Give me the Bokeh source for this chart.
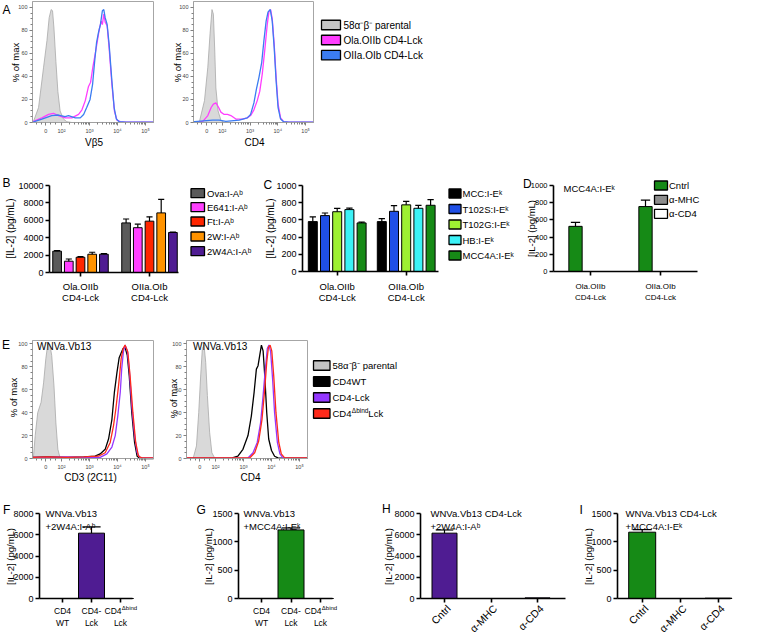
import math
from bokeh.plotting import figure
from bokeh.models import Range1d, FixedTicker, Label, LinearAxis
from bokeh.embed import file_html
from bokeh.resources import INLINE

FONT = "Liberation Sans"

# ====================== DATA ======================
# Flow cytometry: x in display units of the biexponential axis (2 = 10^2, 3 = 10^3, ...), y = % of max
FLOW_TICKS = [1.44, 2.0, 3.0, 4.0, 5.0]
FLOW_TICK_LABELS = ["0", "10²", "10³", "10⁴", "10⁵"]
PCT_TICKS = [0, 20, 40, 60, 80, 100]

# Panel A, left (Vβ5)
A_vb5_par_x = [0.96, 1.0, 1.18, 1.36, 1.48, 1.56, 1.63, 1.68, 1.73, 1.80, 1.87, 1.95, 2.07, 2.19, 2.37]
A_vb5_par_y = [0, 1, 13, 48, 71, 91, 98, 97, 82, 53, 27, 10, 3, 0.7, 0]
A_vb5_olaoiib_x = [0.96, 1.0, 1.30, 1.54, 1.71, 1.89, 2.13, 2.37, 2.61, 2.73, 2.85, 2.96, 3.04, 3.12, 3.20,
                   3.27, 3.35, 3.42, 3.46, 3.51, 3.56, 3.63, 3.70, 3.80, 3.89, 3.98, 4.10, 4.30, 5.29]
A_vb5_olaoiib_y = [0.5, 1, 4, 7, 8, 6, 4, 4, 7, 11, 19, 31, 35, 48, 59,
                   69, 81, 88, 85, 94, 87, 84, 65, 33, 10, 2, 0.7, 0.3, 0.3]
A_vb5_oiiaoib_x = [0.96, 1.0, 1.30, 1.65, 1.89, 2.13, 2.25, 2.49, 2.67, 2.79, 2.90, 3.02, 3.11, 3.18,
                   3.25, 3.32, 3.39, 3.46, 3.51, 3.56, 3.63, 3.70, 3.80, 3.88, 3.96, 4.06, 4.30, 5.29]
A_vb5_oiiaoib_y = [0.3, 0.5, 3, 6, 6.5, 5, 6, 4, 4, 7, 13, 20, 33, 52,
                   69, 78, 85, 97, 98, 91, 85, 68, 36, 13, 3, 0.7, 0.3, 0.3]

# Panel A, right (CD4)
A_cd4_par_x = [1.10, 1.18, 1.36, 1.48, 1.56, 1.63, 1.68, 1.73, 1.77, 1.85, 1.95, 2.07]
A_cd4_par_y = [0, 1, 19, 48, 77, 98, 94, 62, 30, 10, 2, 0]
A_cd4_olaoiib_x = [0.96, 1.0, 1.30, 1.48, 1.60, 1.68, 1.77, 1.87, 1.95, 2.07, 2.19, 2.31, 2.49, 2.73, 2.90,
                   3.02, 3.14, 3.26, 3.35, 3.44, 3.54, 3.62, 3.68, 3.74, 3.80, 3.87, 3.94, 4.01, 4.10,
                   4.21, 4.40, 5.29]
A_cd4_olaoiib_y = [0.5, 0.7, 1, 6, 13, 16, 17, 13, 9, 7, 7, 6, 3, 3, 4,
                   6, 11, 19, 27, 42, 65, 85, 96, 98, 90, 68, 39, 16, 4,
                   0.7, 0.3, 0.3]
A_cd4_oiiaoib_x = [0.96, 1.0, 1.65, 1.89, 2.13, 2.61, 2.90, 3.02, 3.14, 3.23, 3.32, 3.42, 3.50, 3.58,
                   3.65, 3.73, 3.80, 3.87, 3.94, 4.01, 4.10, 4.21, 4.40, 5.29]
A_cd4_oiiaoib_y = [0.5, 0.7, 2, 2, 1, 2, 4, 7, 17, 29, 39, 52, 71, 88,
                   96, 98, 88, 65, 36, 13, 3, 0.7, 0.3, 0.3]
A_legend = ["58α⁻β⁻ parental", "Ola.OIIb CD4-Lck", "OIIa.OIb CD4-Lck"]

# Panel E, left (CD3 2C11)
E_cd3_par_x = [0.96, 1.0, 1.06, 1.15, 1.27, 1.36, 1.44, 1.51, 1.58, 1.65, 1.73, 1.80, 1.87, 1.95, 2.0]
E_cd3_par_y = [0, 2, 20, 40, 49, 66, 87, 100, 100, 90, 64, 31, 8, 0.5, 0]
E_cd3_wt_x = [0.96, 1.5, 2.2, 2.8, 3.20, 3.38, 3.56, 3.68, 3.80, 3.89, 3.98, 4.06, 4.13, 4.20, 4.27,
              4.35, 4.42, 4.51, 4.61, 4.70, 4.81, 5.29]
E_cd3_wt_y = [1, 1.5, 1, 1.5, 2, 4, 8, 17, 34, 58, 75, 88, 92, 96, 97,
              90, 72, 40, 14, 2, 0, 0]
E_cd3_lck_x = [0.96, 1.5, 2.2, 2.8, 3.38, 3.62, 3.80, 3.92, 4.01, 4.10, 4.15, 4.21, 4.27, 4.35, 4.42,
               4.51, 4.61, 4.70, 4.81, 5.29]
E_cd3_lck_y = [1, 1, 1.5, 1, 1, 4, 10, 20, 37, 58, 78, 93, 99, 94, 78,
               46, 20, 5, 0.5, 0.5]
E_cd3_dbind_x = [0.96, 1.5, 2.2, 2.8, 3.32, 3.56, 3.74, 3.86, 3.94, 4.04, 4.13, 4.20, 4.27, 4.37, 4.45,
                 4.55, 4.65, 4.75, 4.87, 5.29]
E_cd3_dbind_y = [1, 1.5, 1, 1.5, 2, 5, 14, 29, 43, 64, 87, 96, 99, 93, 72,
                 40, 14, 2, 0.5, 0.5]

# Panel E, right (CD4)
E_cd4_par_x = [1.20, 1.32, 1.40, 1.47, 1.53, 1.59, 1.65, 1.71, 1.79, 1.87, 1.97]
E_cd4_par_y = [0, 11, 40, 72, 96, 99, 84, 55, 23, 5, 0.5]
E_cd4_wt_x = [0.96, 2.0, 2.6, 2.80, 2.98, 3.16, 3.28, 3.38, 3.46, 3.52, 3.58, 3.64, 3.70, 3.76, 3.83,
              3.90, 4.0, 4.11, 4.23, 5.29]
E_cd4_wt_y = [0.3, 0.3, 0.5, 2, 8, 20, 37, 58, 78, 81, 90, 99, 94, 72, 40,
              17, 7, 2, 0.5, 0.3]
E_cd4_lck_x = [0.96, 3.16, 3.34, 3.49, 3.61, 3.70, 3.78, 3.85, 3.91, 3.97, 4.04, 4.11, 4.21, 4.30, 4.41, 5.29]
E_cd4_lck_y = [0.3, 0.5, 5, 14, 31, 55, 78, 96, 99, 93, 69, 40, 14, 4, 0.5, 0.3]
E_cd4_dbind_x = [0.96, 3.22, 3.40, 3.54, 3.66, 3.76, 3.83, 3.89, 3.95, 4.01, 4.08, 4.16, 4.26, 4.35, 4.47, 5.29]
E_cd4_dbind_y = [0.5, 0.5, 5, 15, 34, 61, 84, 97, 99, 94, 72, 40, 14, 4, 0.5, 0.5]
E_legend = ["58α⁻β⁻ parental", "CD4WT", "CD4-Lck"]

# Panel B  ([IL-2] pg/mL)
BC_groups = ["Ola.OIIb", "OIIa.OIb"]
BC_group_sub = "CD4-Lck"
B_series = ["Ova:I-Aᵇ", "E641:I-Aᵇ", "Ft:I-Aᵇ", "2W:I-Aᵇ", "2W4A:I-Aᵇ"]
B_mean_OlaOIIb = [2450, 1300, 1750, 2100, 2100]
B_upper_OlaOIIb = [2520, 1550, 1820, 2330, 2160]
B_mean_OIIaOIb = [5700, 5150, 5900, 6850, 4600]
B_upper_OIIaOIb = [6150, 5550, 6400, 8400, 4650]
B_yticks = [0, 2000, 4000, 6000, 8000, 10000]

# Panel C
C_series = ["MCC:I-Eᵏ", "T102S:I-Eᵏ", "T102G:I-Eᵏ", "HB:I-Eᵏ", "MCC4A:I-Eᵏ"]
C_mean_OlaOIIb = [580, 650, 695, 720, 565]
C_upper_OlaOIIb = [635, 680, 735, 738, 575]
C_mean_OIIaOIb = [580, 700, 775, 735, 770]
C_upper_OIIaOIb = [615, 765, 815, 770, 835]
CD_yticks = [0, 200, 400, 600, 800, 1000]

# Panel D
D_series = ["Cntrl", "α-MHC", "α-CD4"]
D_mean_OlaOIIb = [525, 0, 0]
D_upper_OlaOIIb = [572, 0, 0]
D_mean_OIIaOIb = [755, 0, 0]
D_upper_OIIaOIb = [830, 0, 0]

# Panels F, G (WNVa.Vb13 cells)
FG_cats_line1 = ["CD4", "CD4-", "CD4"]
FG_cats_line2 = ["WT", "Lck", "Lck"]
F_mean = [0, 6150, 0]
F_upper = [0, 6750, 0]
G_mean = [0, 1210, 0]
G_upper = [0, 1245, 0]
# Panels H, I (blocking)
HI_cats = ["Cntrl", "α-MHC", "α-CD4"]
H_mean = [6150, 0, 60]
H_upper = [6450, 0, 60]
I_mean = [1170, 0, 5]
I_upper = [1215, 0, 5]
FH_yticks = [0, 2000, 4000, 6000, 8000]
GI_yticks = [0, 500, 1000, 1500]

# colours
GREY_FILL, GREY_LINE = "#d9d9d9", "#a8a8a8"
MAGENTA, BLUE = "#ff3dff", "#3b7cf2"
PURPLE_E, RED_E = "#9437ff", "#ff2a1a"
B_colors = ["#5a5a5a", "#ff40ff", "#ff2600", "#ff9300", "#4f1c92"]
C_colors = ["#000000", "#1f4fe6", "#9ef032", "#3cf2f7", "#168a16"]
D_colors = ["#168a16", "#8c8c8c", "#ffffff"]
PURPLE_BAR, GREEN_BAR = "#4f1c92", "#168a16"

# ====================== CANVAS ======================
# one SVG canvas; default ranges are page pixel positions (x right, y down)
CAN = (0, 0, 760, 633)
p = figure(width=CAN[2] - CAN[0], height=CAN[3] - CAN[1],
           x_range=Range1d(CAN[0], CAN[2]), y_range=Range1d(CAN[3], CAN[1]),
           output_backend="svg", toolbar_location=None, title=None,
           x_axis_location=None, y_axis_location=None, min_border=0)
p.min_border_left = p.min_border_right = p.min_border_top = p.min_border_bottom = 0
p.outline_line_color = None
p.grid.visible = False
p.background_fill_color = "white"
p.border_fill_color = "white"

XR, YR = {}, {}

AW = {'C': .722, 'D': .722, '4': .556, 'L': .556, 'c': .5, 'k': .5, 'Δ': .612, 'b': .556,
      'i': .222, 'n': .556, 'd': .556, '-': .333, 'W': .944, 'T': .611}


def tw(s, size):
    return sum(AW.get(ch, .556) for ch in s) * size


def label(X, Y, text, size, align="left", baseline="middle", angle=0.0, color="black"):
    p.add_layout(Label(x=X, y=Y, text=text, text_font=FONT, text_font_size=f"{size}px",
                       text_align=align, text_baseline=baseline, angle=angle, text_color=color))


def rich(X, Y, parts, align="left"):
    total = sum(tw(t, s) for t, s, dy in parts)
    x = X - total / 2 if align == "center" else X
    for t, s, dy in parts:
        label(x, Y + dy, t, s)
        x += tw(t, s) + 0.3


def swatches(x0, x1, ycs, h, colors, texts, tx, size, lw=1.3):
    for yc, c in zip(ycs, colors):
        p.quad(left=x0, right=x1, top=yc - h / 2, bottom=yc + h / 2,
               fill_color=c, line_color="black", line_width=lw)
    for yc, t in zip(ycs, texts):
        label(tx, yc, t, size)


class Panel:
    """A sub-plot: its own data ranges mapped onto a pixel box of the single canvas."""
    def __init__(self, name, frame, xr, yr):
        fx0, fy0, fx1, fy1 = frame
        sx = (xr[1] - xr[0]) / (fx1 - fx0)
        sy = (yr[1] - yr[0]) / (fy1 - fy0)
        XR[name] = Range1d(xr[0] + (CAN[0] - fx0) * sx, xr[0] + (CAN[2] - fx0) * sx)
        YR[name] = Range1d(yr[0] + (fy1 - CAN[3]) * sy, yr[0] + (fy1 - CAN[1]) * sy)
        self.name, self.frame = name, frame
        self.kw = dict(x_range_name=name, y_range_name=name)


def style_axis(ax, color, tick_color, lw, tick_out, size, label_color, standoff=2):
    ax.axis_line_color = color
    ax.axis_line_width = lw
    ax.major_tick_line_color = tick_color
    ax.major_tick_line_width = lw
    ax.minor_tick_line_color = tick_color
    ax.minor_tick_line_width = lw
    ax.major_tick_out, ax.major_tick_in = tick_out, 0
    ax.minor_tick_out, ax.minor_tick_in = max(2, tick_out - 1), 0
    ax.major_label_text_font = FONT
    ax.major_label_text_font_size = f"{size}px"
    ax.major_label_text_color = label_color
    ax.major_label_standoff = standoff


D_RANGE = (0.964, 5.286)
FLOW_MINOR = [1.1, 1.27, 1.62, 1.78] + [d + math.log10(k) for d in (2, 3, 4) for k in range(2, 10)]
PCT_MINOR = [v for v in range(0, 101, 5) if v % 20]


def hist_panel(name, frame, ytop, par_x, par_y, lines):
    P = Panel(name, frame, D_RANGE, (0, ytop))
    fx0, fy0, fx1, fy1 = frame
    p.varea(x=par_x, y1=0, y2=par_y, fill_color=GREY_FILL, **P.kw)
    p.line(par_x, par_y, line_color=GREY_LINE, line_width=0.8, **P.kw)
    for xs, ys, c in lines:
        p.line(xs, ys, line_color=c, line_width=1.3, **P.kw)
    p.quad(left=fx0, right=fx1, top=fy0, bottom=fy1, fill_color=None, line_color="#a6a6a6", line_width=1)
    yax = LinearAxis(y_range_name=name, fixed_location=fx0, bounds=(0, ytop),
                     ticker=FixedTicker(ticks=PCT_TICKS, minor_ticks=PCT_MINOR))
    xax = LinearAxis(x_range_name=name, fixed_location=fy1, bounds=D_RANGE,
                     ticker=FixedTicker(ticks=FLOW_TICKS, minor_ticks=FLOW_MINOR),
                     major_label_overrides=dict(zip(FLOW_TICKS, FLOW_TICK_LABELS)))
    for ax in (xax, yax):
        style_axis(ax, "#a0a0a0", "#808080", 1, 3, 5.5, "#444444")
    p.add_layout(yax, "left")
    p.add_layout(xax, "below")
    return P


def bar_panel(name, frame, top_tick, yticks, cats_px, tick_size=9):
    fx0, fy0, fx1, fy1 = frame
    P = Panel(name, frame, (fx0, fx1), (0, top_tick))
    yax = LinearAxis(y_range_name=name, fixed_location=fx0, bounds=(0, top_tick),
                     ticker=FixedTicker(ticks=yticks))
    xax = LinearAxis(x_range_name=name, fixed_location=fy1, bounds=(fx0, fx1),
                     ticker=FixedTicker(ticks=[], minor_ticks=list(cats_px)))
    for ax in (xax, yax):
        style_axis(ax, "black", "black", 1.6, 4, tick_size, "black")
    xax.minor_tick_out = 4
    p.add_layout(yax, "left")
    p.add_layout(xax, "below")
    return P


def draw_bars(P, xs, width_px, means, uppers, colors):
    p.vbar(x=xs, width=width_px, top=means, bottom=0, fill_color=colors, line_color="black",
           line_width=1, **P.kw)
    cw = width_px * 0.35
    for x, m, u in zip(xs, means, uppers):
        if u > m:
            p.segment(x0=[x], y0=[m], x1=[x], y1=[u], line_color="black", line_width=1.2, **P.kw)
            p.segment(x0=[x - cw], y0=[u], x1=[x + cw], y1=[u], line_color="black", line_width=1.2, **P.kw)


LETTER = 12

# ====================== A ======================
hist_panel("A1", (32, 1, 153, 122), 105, A_vb5_par_x, A_vb5_par_y,
           [(A_vb5_olaoiib_x, A_vb5_olaoiib_y, MAGENTA), (A_vb5_oiiaoib_x, A_vb5_oiiaoib_y, BLUE)])
hist_panel("A2", (193, 1, 313, 122), 105, A_cd4_par_x, A_cd4_par_y,
           [(A_cd4_olaoiib_x, A_cd4_olaoiib_y, MAGENTA), (A_cd4_oiiaoib_x, A_cd4_oiiaoib_y, BLUE)])
label(2, 9, "A", LETTER)
label(15, 62, "% of max", 9.5, align="center", angle=math.pi / 2)
label(93.5, 142, "Vβ5", 10, align="center")
label(177, 62, "% of max", 9.5, align="center", angle=math.pi / 2)
label(254, 142, "CD4", 10, align="center")
swatches(321, 340, [24.5, 39.5, 54.7], 9.5, ["#c4c4c4", MAGENTA, BLUE], A_legend, 343, 10)

# ====================== B ======================
B_groups_px = [80, 149]
B = bar_panel("B", (49, 185, 178, 272), 10000, B_yticks, B_groups_px)
for g, (m, u) in enumerate([(B_mean_OlaOIIb, B_upper_OlaOIIb), (B_mean_OIIaOIb, B_upper_OIIaOIb)]):
    draw_bars(B, [B_groups_px[g] + (j - 2) * 11.7 for j in range(5)], 8.7, m, u, B_colors)
for g, name in enumerate(BC_groups):
    label(B_groups_px[g], 286, name, 9.5, align="center")
    label(B_groups_px[g], 297, BC_group_sub, 9.5, align="center")
label(2, 182.5, "B", LETTER)
label(10, 228, "[IL-2] (pg/mL)", 10, align="center", angle=math.pi / 2)
swatches(190.5, 204, [192.7, 206.7, 221, 236, 250.7], 9, B_colors, B_series, 206.5, 9.5)

# ====================== C ======================
C_groups_px = [336.7, 405.7]
C = bar_panel("C", (302, 185, 438, 271), 1000, CD_yticks, C_groups_px)
for g, (m, u) in enumerate([(C_mean_OlaOIIb, C_upper_OlaOIIb), (C_mean_OIIaOIb, C_upper_OIIaOIb)]):
    draw_bars(C, [C_groups_px[g] + (j - 2) * 12.2 for j in range(5)], 9, m, u, C_colors)
for g, name in enumerate(BC_groups):
    label(C_groups_px[g], 286, name, 9.5, align="center")
    label(C_groups_px[g], 297, BC_group_sub, 9.5, align="center")
label(263, 184, "C", LETTER)
label(270, 228, "[IL-2] (pg/mL)", 10, align="center", angle=math.pi / 2)
swatches(448.5, 460.5, [193, 208.5, 224, 239.5, 255], 9, C_colors, C_series, 462, 9.5)

# ====================== D ======================
D_groups_px = [590, 660]
D = bar_panel("D", (553, 185, 697, 271), 1000, CD_yticks, D_groups_px, tick_size=7.5)
for g, (m, u) in enumerate([(D_mean_OlaOIIb, D_upper_OlaOIIb), (D_mean_OIIaOIb, D_upper_OIIaOIb)]):
    draw_bars(D, [D_groups_px[g] + (j - 1) * 15 for j in range(3)], 13.3, m, u, D_colors)
for g, name in enumerate(BC_groups):
    label(D_groups_px[g], 286, name, 8, align="center")
    label(D_groups_px[g], 297, BC_group_sub, 8, align="center")
label(522.5, 183.5, "D", LETTER)
label(531, 228, "[IL-2] (pg/mL)", 9.5, align="center", angle=math.pi / 2)
label(563, 188, "MCC4A:I-Eᵏ", 9.5)
swatches(654, 667, [185, 199.3, 213.3], 9, D_colors, D_series, 668.5, 9.5)

# ====================== E ======================
hist_panel("E1", (32, 340, 153, 458), 103, E_cd3_par_x, E_cd3_par_y,
           [(E_cd3_wt_x, E_cd3_wt_y, "black"), (E_cd3_lck_x, E_cd3_lck_y, PURPLE_E),
            (E_cd3_dbind_x, E_cd3_dbind_y, RED_E)])
hist_panel("E2", (186, 340, 307, 458), 103, E_cd4_par_x, E_cd4_par_y,
           [(E_cd4_wt_x, E_cd4_wt_y, "black"), (E_cd4_lck_x, E_cd4_lck_y, PURPLE_E),
            (E_cd4_dbind_x, E_cd4_dbind_y, RED_E)])
label(1.5, 344, "E", LETTER)
label(13, 397, "% of max", 9.5, align="center", angle=math.pi / 2)
label(90, 477, "CD3 (2C11)", 10, align="center")
label(36.5, 346, "WNVa.Vb13", 10)
label(173, 398, "% of max", 9.5, align="center", angle=math.pi / 2)
label(250, 477, "CD4", 10, align="center")
label(192.5, 346, "WNVa.Vb13", 10)
swatches(313, 329.5, [365, 381, 397, 413], 9.5, ["#c4c4c4", "black", PURPLE_E, RED_E], E_legend, 332, 9.5)
rich(332, 413, [("CD4", 9.5, 0), ("Δbind", 6.5, -3.5), ("Lck", 9.5, 0)])

# ====================== F / G ======================
F_cats_px = [62, 91, 120]
F = bar_panel("F", (39, 513, 132, 598), 8000, FH_yticks, F_cats_px)
draw_bars(F, F_cats_px, 26, F_mean, F_upper, [PURPLE_BAR] * 3)
label(2.5, 509, "F", LETTER)
label(10, 556, "[IL-2] (pg/mL)", 9.5, align="center", angle=math.pi / 2)
label(45, 513, "WNVa.Vb13", 9.5)
label(45, 526, "+2W4A:I-Aᵇ", 9.5)

G_cats_px = [261, 290.5, 320]
G = bar_panel("G", (238, 513, 332, 598), 1500, GI_yticks, G_cats_px)
draw_bars(G, G_cats_px, 26, G_mean, G_upper, [GREEN_BAR] * 3)
label(196, 509, "G", LETTER)
label(208, 556, "[IL-2] (pg/mL)", 9.5, align="center", angle=math.pi / 2)
label(243, 513, "WNVa.Vb13", 9.5)
label(243, 526, "+MCC4A:I-Eᵏ", 9.5)

for cats in (F_cats_px, G_cats_px):
    for k in range(3):
        if k == 2:
            rich(cats[k], 610, [(FG_cats_line1[k], 8.5, 0), ("Δbind", 6, -3)], align="center")
        else:
            label(cats[k], 610, FG_cats_line1[k], 8.5, align="center")
        label(cats[k], 622, FG_cats_line2[k], 8.5, align="center")

# ====================== H / I ======================
H_cats_px = [444, 490.5, 537]
H = bar_panel("H", (420, 513, 565, 598), 8000, FH_yticks, H_cats_px)
draw_bars(H, H_cats_px, 25, H_mean, H_upper, [PURPLE_BAR] * 3)
label(381.5, 508.5, "H", LETTER)
label(388, 556, "[IL-2] (pg/mL)", 9.5, align="center", angle=math.pi / 2)
label(430, 513, "WNVa.Vb13 CD4-Lck", 9.5)
label(430, 526, "+2W4A:I-Aᵇ", 9.5)

I_cats_px = [641.7, 680, 718]
I = bar_panel("I", (617, 513, 730, 598), 1500, GI_yticks, I_cats_px)
draw_bars(I, I_cats_px, 27, I_mean, I_upper, [GREEN_BAR] * 3)
label(579, 509, "I", LETTER)
label(588, 556, "[IL-2] (pg/mL)", 9.5, align="center", angle=math.pi / 2)
label(625, 513, "WNVa.Vb13 CD4-Lck", 9.5)
label(625, 526, "+MCC4A:I-Eᵏ", 9.5)

for cats in (H_cats_px, I_cats_px):
    for k in range(3):
        label(cats[k] + 4, 606, HI_cats[k], 10.5, align="right", angle=math.pi / 4)

p.extra_x_ranges = XR
p.extra_y_ranges = YR

with open("out.html", "w") as f:
    f.write(file_html(p, INLINE, title="Figure"))
